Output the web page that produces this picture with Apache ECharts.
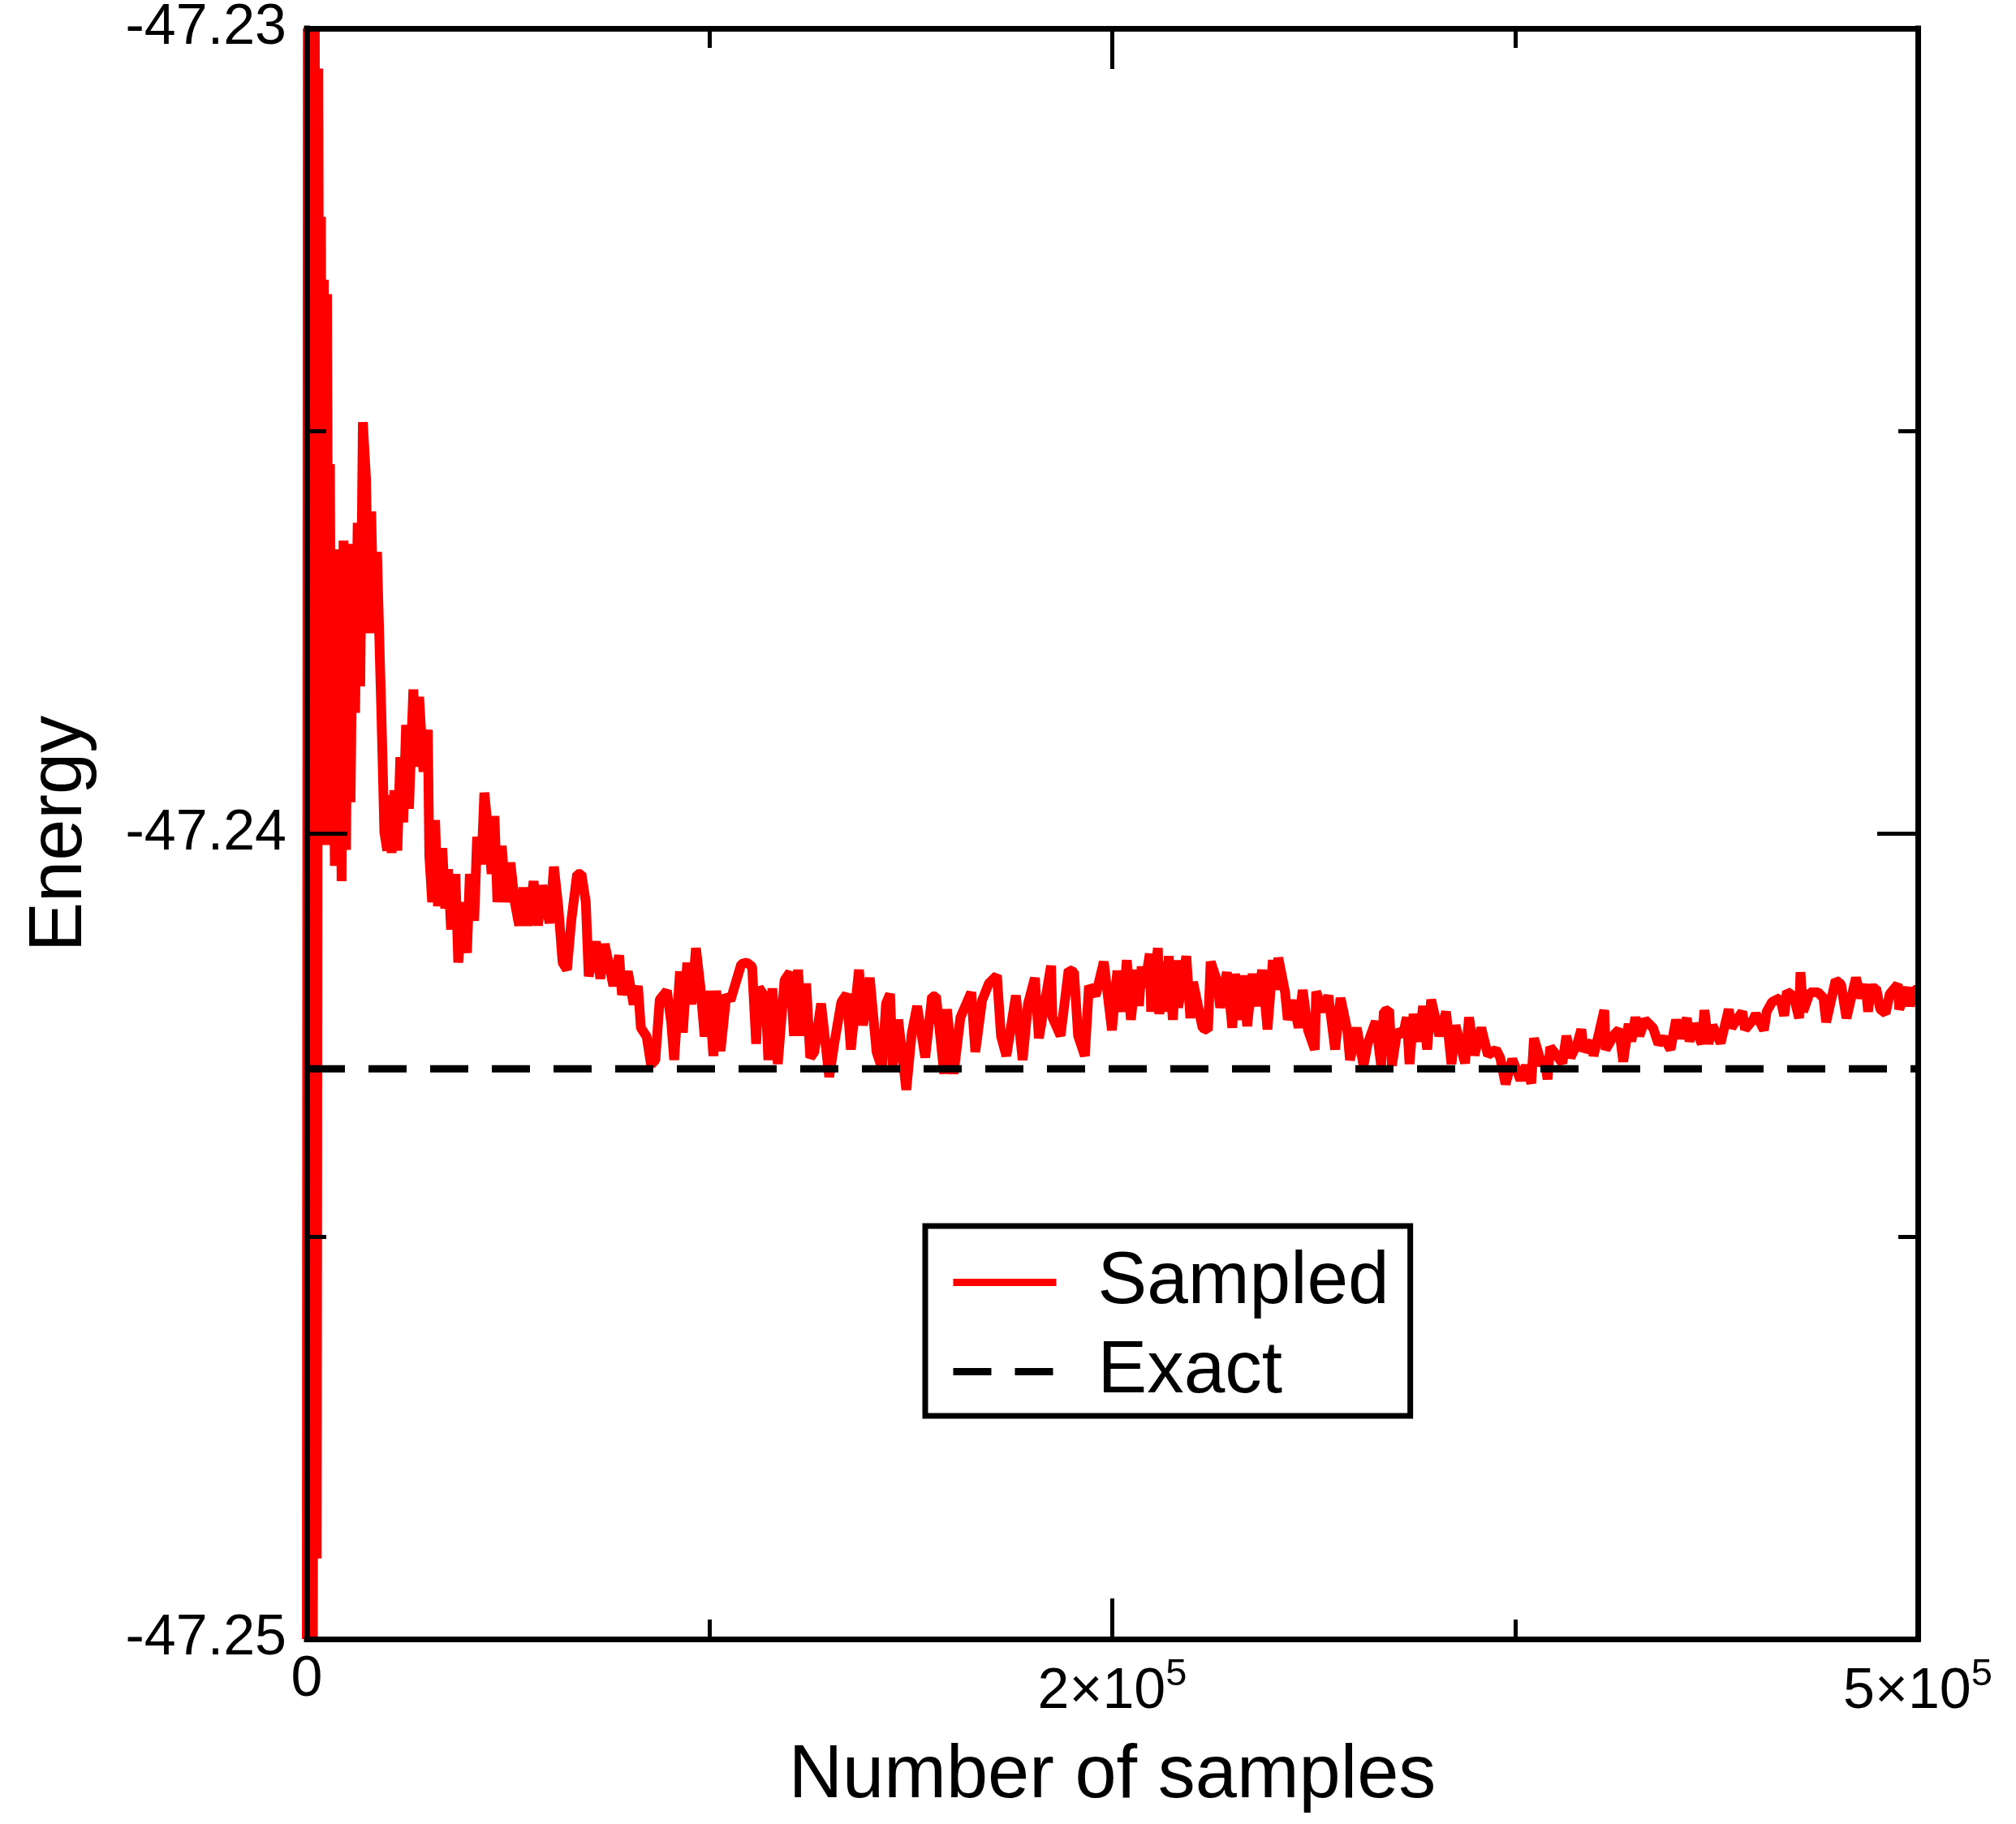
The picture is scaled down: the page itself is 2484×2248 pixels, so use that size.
<!DOCTYPE html>
<html>
<head>
<meta charset="utf-8">
<script src="https://cdn.jsdelivr.net/npm/echarts@6/dist/echarts.min.js"></script>
<style>
html,body{margin:0;padding:0;background:#fff;}
#chart{width:2484px;height:2248px;}
</style>
</head>
<body>
<div id="chart"></div>
<script>
// ---- data ----
const sampleCounts = [
0,300,800,1300,1900,2500,3100,3600,4100,4400,4900,5300,5800,6300,6800,7200,7600,8000,8700,9400,
10000,10800,11400,12200,12800,13600,14400,15000,15800,16600,17400,18400,19200,20000,20800,21800,22800,
23170,24070,24970,25420,26320,27220,28120,29020,29920,30820,31720,33070,33970,34870,36220,37570,38020,38920,39820,
40720,42070,42970,43870,44770,46120,47020,48360,49710,50610,51960,52860,54210,55110,56460,57360,58260,59160,
60510,61860,63210,64560,65910,67260,68610,70400,71750,73100,75350,76700,78050,79400,80750,82100,83900,85250,
86600,87500,89750,91100,92450,94240,95140,96940,97840,99640,101440,102790,103690,105490,106840,108190,109540,
111780,113130,114030,115830,116730,118080,119430,120780,122130,123480,124830,126180,127080,128420,130220,
131500,134850,136530,138210,139470,140310,142410,143250,144510,146190,148280,149970,151220,152480,153740,155000,
156260,157520,159620,162140,163820,165920,167600,168860,171380,172640,174740,176840,178520,179780,181030,181870,
183550,186070,187750,189430,191950,194050,195310,197830,198670,200770,202870,206230,207490,209590,211680,214200,
215460,217140,220080,222180,223860,225960,227220,230990,231420,233940,236460,238130,239390,241490,242750,244850,
247370,249890,251570,253250,254510,255770,257450,
258280,259120,259960,261640,262060,264160,264580,265840,266680,267520,268780,270040,270460,272980,274230,275070,
278010,279690,280530,282630,283470,285570,287250,288090,289770,290610,291870,293550,295230,296490,298170,299850,
301110,301530,303630,304470,306140,307820,309080,310760,312860,313280,315380,317060,319160,320840,322940,323780,
325880,327980,329240,331760,333430,334270,335950,336790,338470,340150,341410,342250,343510,345190,346450,347710,
348970,351490,353590,355270,356530,359460,360720,362400,364500,366600,369120,370380,372060,374160,376680,378360,
380040,380880,383400,
384230,385070,385910,388430,389690,390950,392210,394310,395570,396410,398930,399350,401030,402700,403120,406060,
407320,408580,410260,411100,412360,413620,415300,417820,419500,421180,423280,424960,426220,428320,429160,430420,
432940,433780,435030,436290,438810,441330,442170,445530,446370,448890,449730,452250,453090,454770,457290,458540,
459380,461480,463160,463580,464420,466520,469040,470720,471560,474500,476180,477860,480800,482480,483740,484580,
485420,487100,488360,490030,491290,493810,494230,496750,497590,498850,500000
];
const sampledEnergy = [
-47.25000,-47.23000,-47.24900,-47.23000,-47.25000,-47.23000,-47.24900,-47.23050,-47.23970,-47.23234,-47.23967,-47.23312,-47.24014,-47.23330,-47.23980,-47.23541,-47.24014,-47.23686,-47.24040,-47.23700,
-47.23647,-47.24059,-47.23636,-47.24020,-47.23650,-47.23961,-47.23640,-47.23850,-47.23614,-47.23817,-47.23489,-47.23560,-47.23751,-47.23600,-47.23751,-47.23650,-47.23800,
-47.23853,-47.23998,-47.24021,-47.23952,-47.24024,-47.23946,-47.24021,-47.23905,-47.23986,-47.23865,-47.23969,-47.23821,-47.23917,-47.23830,-47.23923,-47.23871,-47.24027,-47.24085,-47.23983,
-47.24090,-47.24018,-47.24093,-47.24044,-47.24119,-47.24050,-47.24160,-47.24085,-47.24148,-47.24050,-47.24108,-47.24004,-47.24038,-47.23949,-47.24004,-47.24050,-47.23978,-47.24085,
-47.24015,-47.24085,-47.24036,-47.24085,-47.24114,-47.24067,-47.24114,-47.24059,-47.24114,-47.24064,-47.24111,-47.24041,-47.24090,-47.24160,-47.24169,-47.24108,-47.24050,-47.24050,
-47.24085,-47.24177,-47.24134,-47.24180,-47.24137,-47.24171,-47.24189,-47.24151,-47.24200,-47.24171,-47.24212,-47.24189,-47.24241,-47.24252,-47.24287,-47.24281,-47.24206,
-47.24195,-47.24235,-47.24281,-47.24171,-47.24247,-47.24160,-47.24212,-47.24142,-47.24189,-47.24252,-47.24195,-47.24276,-47.24195,-47.24270,-47.24200,
-47.24207,-47.24162,-47.24160,-47.24165,-47.24261,-47.24191,-47.24204,-47.24281,-47.24192,-47.24286,-47.24182,-47.24172,-47.24251,-47.24169,-47.24251,-47.24186,
-47.24278,-47.24271,-47.24211,-47.24302,-47.24258,-47.24209,-47.24199,-47.24268,-47.24169,-47.24238,-47.24179,-47.24271,-47.24291,-47.24211,-47.24199,-47.24288,
-47.24231,-47.24318,-47.24248,-47.24214,-47.24278,-47.24202,-47.24202,-47.24298,-47.24218,-47.24298,-47.24228,-47.24197,-47.24271,-47.24207,-47.24186,-47.24176,
-47.24251,-47.24276,-47.24201,-47.24281,-47.24211,-47.24179,-47.24254,-47.24164,-47.24228,-47.24251,-47.24169,-47.24172,-47.24251,-47.24276,-47.24189,-47.24201,
-47.24159,-47.24244,-47.24170,-47.24221,-47.24157,-47.24231,-47.24169,
-47.24214,-47.24165,-47.24191,-47.24149,-47.24221,-47.24142,-47.24224,-47.24159,-47.24221,-47.24152,-47.24231,-47.24157,-47.24216,-47.24152,-47.24229,-47.24184,
-47.24241,-47.24244,-47.24159,-47.24184,-47.24216,-47.24172,-47.24241,-47.24174,-47.24231,-47.24176,-47.24239,-47.24174,-47.24214,-47.24169,-47.24243,-47.24157,
-47.24194,-47.24154,-47.24197,-47.24231,-47.24207,-47.24241,-47.24194,-47.24244,-47.24268,-47.24196,-47.24221,-47.24201,-47.24268,-47.24204,-47.24244,-47.24281,
-47.24241,-47.24288,-47.24261,-47.24233,-47.24288,-47.24221,-47.24219,-47.24288,-47.24244,-47.24251,-47.24228,-47.24286,-47.24224,-47.24258,-47.24214,-47.24268,
-47.24206,-47.24251,-47.24221,-47.24286,-47.24238,-47.24285,-47.24228,-47.24275,-47.24241,-47.24275,-47.24268,-47.24278,-47.24311,-47.24280,-47.24306,-47.24288,
-47.24310,-47.24254,-47.24288,
-47.24280,-47.24305,-47.24265,-47.24278,-47.24285,-47.24251,-47.24278,-47.24261,-47.24243,-47.24270,-47.24258,-47.24276,-47.24248,-47.24219,-47.24268,-47.24248,
-47.24243,-47.24283,-47.24236,-47.24258,-47.24228,-47.24251,-47.24231,-47.24241,-47.24261,-47.24253,-47.24268,-47.24231,-47.24254,-47.24229,-47.24258,-47.24236,
-47.24261,-47.24219,-47.24261,-47.24238,-47.24260,-47.24218,-47.24241,-47.24221,-47.24243,-47.24231,-47.24224,-47.24244,-47.24221,-47.24209,-47.24204,-47.24226,
-47.24196,-47.24202,-47.24229,-47.24172,-47.24221,-47.24197,-47.24197,-47.24204,-47.24234,-47.24182,-47.24187,-47.24229,-47.24179,-47.24204,-47.24187,-47.24221,
-47.24192,-47.24192,-47.24218,-47.24223,-47.24199,-47.24187,-47.24218,-47.24191,-47.24214,-47.24194,-47.24194
];
const exactEnergy = -47.24292;
const seriesNames = ['Sampled', 'Exact'];
const xRange = [0, 500000];
const yRange = [-47.25, -47.23];
const xTickValues = [0, 250000, 500000];
const xTickMantissa = ['0', '2\u00d710', '5\u00d710'];
const xTickExponent = ['', '5', '5'];
const yTickValues = [-47.25, -47.24, -47.23];
const yTickLabels = ['-47.25', '-47.24', '-47.23'];

// ---- chart ----
const FONT = '"Liberation Sans", Arial, Helvetica, sans-serif';
const sampledData = sampleCounts.map((s, i) => [s, sampledEnergy[i]]);
const exactData = [[xRange[0], exactEnergy], [xRange[1], exactEnergy]];

function xLabel(v) {
  const i = xTickValues.findIndex(t => Math.abs(t - v) < 1e-6);
  if (i < 0) return '';
  if (!xTickExponent[i]) return '{z|' + xTickMantissa[i] + '}';
  return '{m|' + xTickMantissa[i] + '}{s|' + xTickExponent[i] + '}';
}
function yLabel(v) {
  const i = yTickValues.findIndex(t => Math.abs(t - v) < 1e-9);
  return i < 0 ? '' : yTickLabels[i];
}

const axisLineStyle = { show: true, onZero: false, lineStyle: { color: '#000', width: 7, cap: 'square' } };
const tickStyle = { show: true, inside: true, length: 50, lineStyle: { color: '#000', width: 5 } };
const minorStyle = { show: true, splitNumber: 2, length: 24, lineStyle: { color: '#000', width: 5 } };

const chart = echarts.init(document.getElementById('chart'), null, { renderer: 'canvas' });
chart.setOption({
  animation: false,
  backgroundColor: '#fff',
  textStyle: { fontFamily: FONT, color: '#000' },
  grid: { left: 378, top: 35, width: 1985, height: 1985, containLabel: false, outerBoundsMode: 'none', show: false },
  legend: {
    show: true, orient: 'vertical', left: 1140, top: 1511,
    padding: [24, 26, 9, 30], borderColor: '#000', borderWidth: 7, borderRadius: 0, backgroundColor: '#fff',
    itemWidth: 127, itemHeight: 20, itemGap: 19, selectedMode: false,
    lineStyle: { width: 9 },
    itemStyle: { opacity: 0, borderWidth: 0 },
    textStyle: { fontSize: 91, color: '#000', fontFamily: FONT, padding: [0, 0, 0, 46] },
    data: seriesNames, z: 20
  },
  xAxis: [{
    type: 'value', position: 'bottom', min: xRange[0], max: xRange[1], interval: 250000,
    name: 'Number of samples', nameLocation: 'middle', nameGap: 124, nameMoveOverlap: false,
    nameTextStyle: { fontSize: 92, color: '#000', fontFamily: FONT },
    axisLine: axisLineStyle, axisTick: tickStyle, minorTick: minorStyle,
    splitLine: { show: false }, minorSplitLine: { show: false },
    axisLabel: {
      show: true, margin: 16, formatter: xLabel, color: '#000', fontFamily: FONT,
      showMinLabel: true, showMaxLabel: true, hideOverlap: false,
      rich: {
        z: { fontSize: 70, lineHeight: 70, fontFamily: FONT, color: '#000' },
        m: { fontSize: 70, lineHeight: 70, padding: [30, 0, 0, 0], fontFamily: FONT, color: '#000' },
        s: { fontSize: 47, lineHeight: 47, padding: [5, 0, 0, 0], verticalAlign: 'top', fontFamily: FONT, color: '#000' }
      }
    },
    z: 10
  }, {
    type: 'value', position: 'top', min: xRange[0], max: xRange[1], interval: 250000,
    axisLine: axisLineStyle, axisTick: tickStyle, minorTick: minorStyle,
    splitLine: { show: false }, minorSplitLine: { show: false }, axisLabel: { show: false },
    z: 10
  }],
  yAxis: [{
    type: 'value', position: 'left', min: yRange[0], max: yRange[1], interval: 0.01,
    name: 'Energy', nameLocation: 'middle', nameGap: 257, nameMoveOverlap: false,
    nameTextStyle: { fontSize: 92, color: '#000', fontFamily: FONT },
    axisLine: axisLineStyle, axisTick: tickStyle, minorTick: minorStyle,
    splitLine: { show: false }, minorSplitLine: { show: false },
    axisLabel: { show: true, margin: 25, fontSize: 70, color: '#000', fontFamily: FONT, formatter: yLabel,
      showMinLabel: true, showMaxLabel: true, hideOverlap: false },
    z: 10
  }, {
    type: 'value', position: 'right', min: yRange[0], max: yRange[1], interval: 0.01,
    axisLine: axisLineStyle, axisTick: tickStyle, minorTick: minorStyle,
    splitLine: { show: false }, minorSplitLine: { show: false }, axisLabel: { show: false },
    z: 10
  }],
  series: [{
    name: seriesNames[0], type: 'line', xAxisIndex: 0, yAxisIndex: 0,
    data: sampledData, symbol: 'none', showSymbol: false, clip: false,
    lineStyle: { color: '#ff0000', width: 12, join: 'bevel' },
    itemStyle: { color: '#ff0000' }, z: 2
  }, {
    name: seriesNames[1], type: 'line', xAxisIndex: 0, yAxisIndex: 0,
    data: exactData, symbol: 'none', showSymbol: false,
    lineStyle: { color: '#000', width: 9, type: [47, 29], dashOffset: 0 },
    itemStyle: { color: '#000' }, z: 3
  }]
});
</script>
</body>
</html>
